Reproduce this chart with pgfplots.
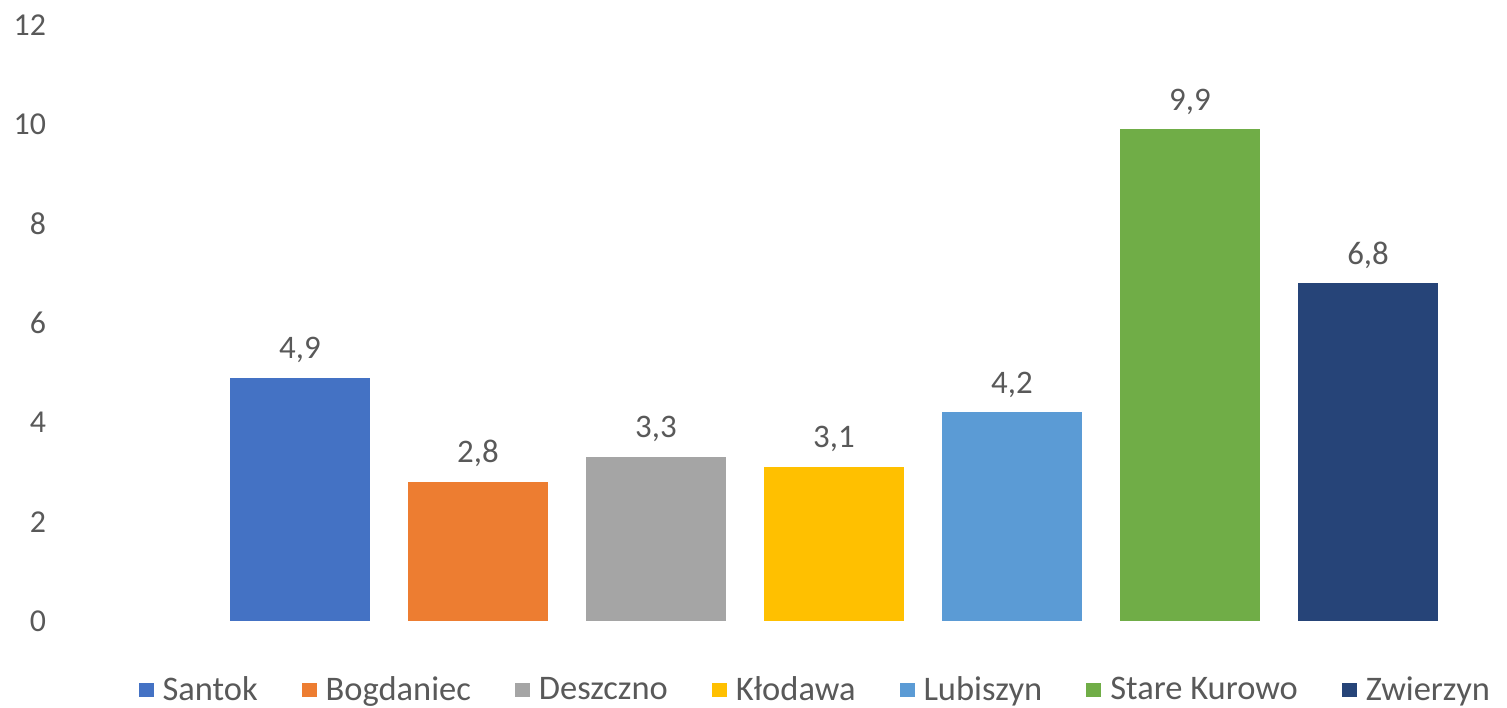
\documentclass[border=0pt]{standalone}
\usepackage{fontspec}
\setmainfont{Carlito}
\usepackage{pgfplots}
\pgfplotsset{compat=1.18}
\definecolor{txt}{HTML}{595959}
\definecolor{c1}{HTML}{4472C4}
\definecolor{c2}{HTML}{ED7D31}
\definecolor{c3}{HTML}{A5A5A5}
\definecolor{c4}{HTML}{FFC000}
\definecolor{c5}{HTML}{5B9BD5}
\definecolor{c6}{HTML}{70AD47}
\definecolor{c7}{HTML}{264478}
\begin{document}
\begin{tikzpicture}
\useasboundingbox (0,0) rectangle (753.5bp,354bp);
\begin{axis}[
    at={(27.5bp,43.5bp)}, anchor=south west,
    scale only axis, width=701bp, height=298bp,
    xmin=-0.376, xmax=7.5, ymin=0, ymax=12,
    ytick={0,2,...,12}, xtick=\empty,
    axis line style={draw=none}, major tick style={draw=none},
    ybar, bar width=70bp, bar shift=0pt,
    every axis plot/.append style={draw=none},
    tick label style={font=\fontsize{16}{18}\selectfont, text=txt},
    yticklabel style={xshift=-1bp},
    /pgf/number format/assume math mode=true,
    nodes near coords,
    every node near coord/.append style={font=\fontsize{16.5}{18}\selectfont, text=txt, yshift=4bp,
      /pgf/number format/.cd, fixed, fixed zerofill, precision=1, use comma},
    legend columns=7,
    legend style={draw=none, fill=none, at={(0.543,-0.1158)}, anchor=center,
      font=\fontsize{17.3}{19}\selectfont, text=txt,
      /tikz/every even column/.append style={column sep=20bp}},
    legend image code/.code={\fill[#1] (0bp,-3.7bp) rectangle (7.5bp,3.7bp);
      \path (10bp,0bp);},
]
\addplot[fill=c1] coordinates {(1,4.9)}; \addlegendentry{Santok}
\addplot[fill=c2] coordinates {(2,2.8)}; \addlegendentry{Bogdaniec}
\addplot[fill=c3] coordinates {(3,3.3)}; \addlegendentry{Deszczno}
\addplot[fill=c4] coordinates {(4,3.1)}; \addlegendentry{Kłodawa}
\addplot[fill=c5] coordinates {(5,4.2)}; \addlegendentry{Lubiszyn}
\addplot[fill=c6] coordinates {(6,9.9)}; \addlegendentry{Stare Kurowo}
\addplot[fill=c7] coordinates {(7,6.8)}; \addlegendentry{Zwierzyn}
\end{axis}
\end{tikzpicture}
\end{document}
